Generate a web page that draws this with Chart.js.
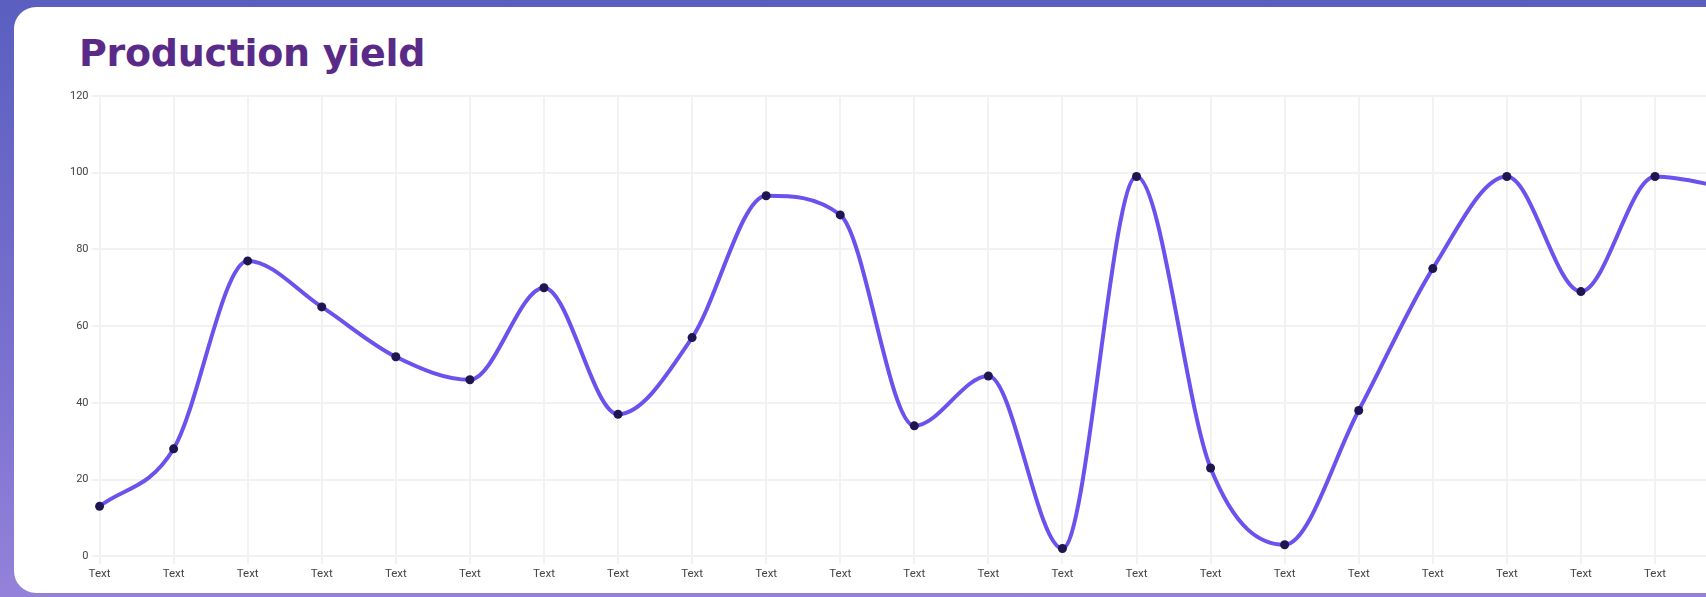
<!DOCTYPE html>
<html>
<head>
<meta charset="utf-8">
<script src="https://cdn.jsdelivr.net/npm/chart.js@4"></script>
<style>
  html,body{margin:0;padding:0;width:1706px;height:597px;overflow:hidden;}
  body{background:linear-gradient(180deg,#5a5fbf 0%,#7a70cf 60%,#9482da 100%);position:relative;font-family:Roboto,"Noto Sans",sans-serif;}
  .card{position:absolute;left:14px;top:7px;width:1800px;height:586px;background:#fff;border-radius:22px;}
  h1{position:absolute;left:65px;top:24px;margin:0;font-family:"DejaVu Sans",sans-serif;font-weight:700;font-size:38px;color:#5a2a88;letter-spacing:-0.3px;}
  .wrap{position:absolute;left:53px;top:79px;width:1676px;height:498px;}
</style>
</head>
<body>
<div class="card">
  <h1>Production yield</h1>
  <div class="wrap"><canvas id="c"></canvas></div>
</div>
<script>
const categories = ["Text","Text","Text","Text","Text","Text","Text","Text","Text","Text","Text","Text","Text","Text","Text","Text","Text","Text","Text","Text","Text","Text","Text"];
const yieldValues = [13,28,77,65,52,46,70,37,57,94,89,34,47,2,99,23,3,38,75,99,69,99,96];
const yTicks = [0,20,40,60,80,100,120];

new Chart(document.getElementById('c'), {
  type: 'line',
  data: {
    labels: categories,
    datasets: [{
      label: 'Production yield',
      data: yieldValues,
      borderColor: '#6a52ee',
      borderWidth: 4,
      cubicInterpolationMode: 'monotone',
      pointRadius: 4.5,
      pointBackgroundColor: '#1d1650',
      pointBorderColor: '#1d1650',
      pointBorderWidth: 0,
      fill: false
    }]
  },
  options: {
    responsive: true,
    maintainAspectRatio: false,
    animation: false,
    layout: { padding: { left: 0, right: 0, top: 10, bottom: 0 } },
    plugins: { legend: { display: false }, tooltip: { enabled: false } },
    scales: {
      x: {
        grid: { color: '#f2f2f2', lineWidth: 2 },
        border: { display: false },
        ticks: { color: '#444', font: { family: 'Roboto', size: 11.5 }, maxRotation: 0, autoSkip: false }
      },
      y: {
        min: yTicks[0], max: yTicks[yTicks.length-1],
        afterBuildTicks: (axis) => { axis.ticks = yTicks.map(v => ({ value: v })); },
        grid: { color: '#f2f2f2', lineWidth: 2 },
        border: { display: false },
        ticks: { color: '#444', font: { family: 'Roboto', size: 11 } }
      }
    }
  }
});
</script>
</body>
</html>
